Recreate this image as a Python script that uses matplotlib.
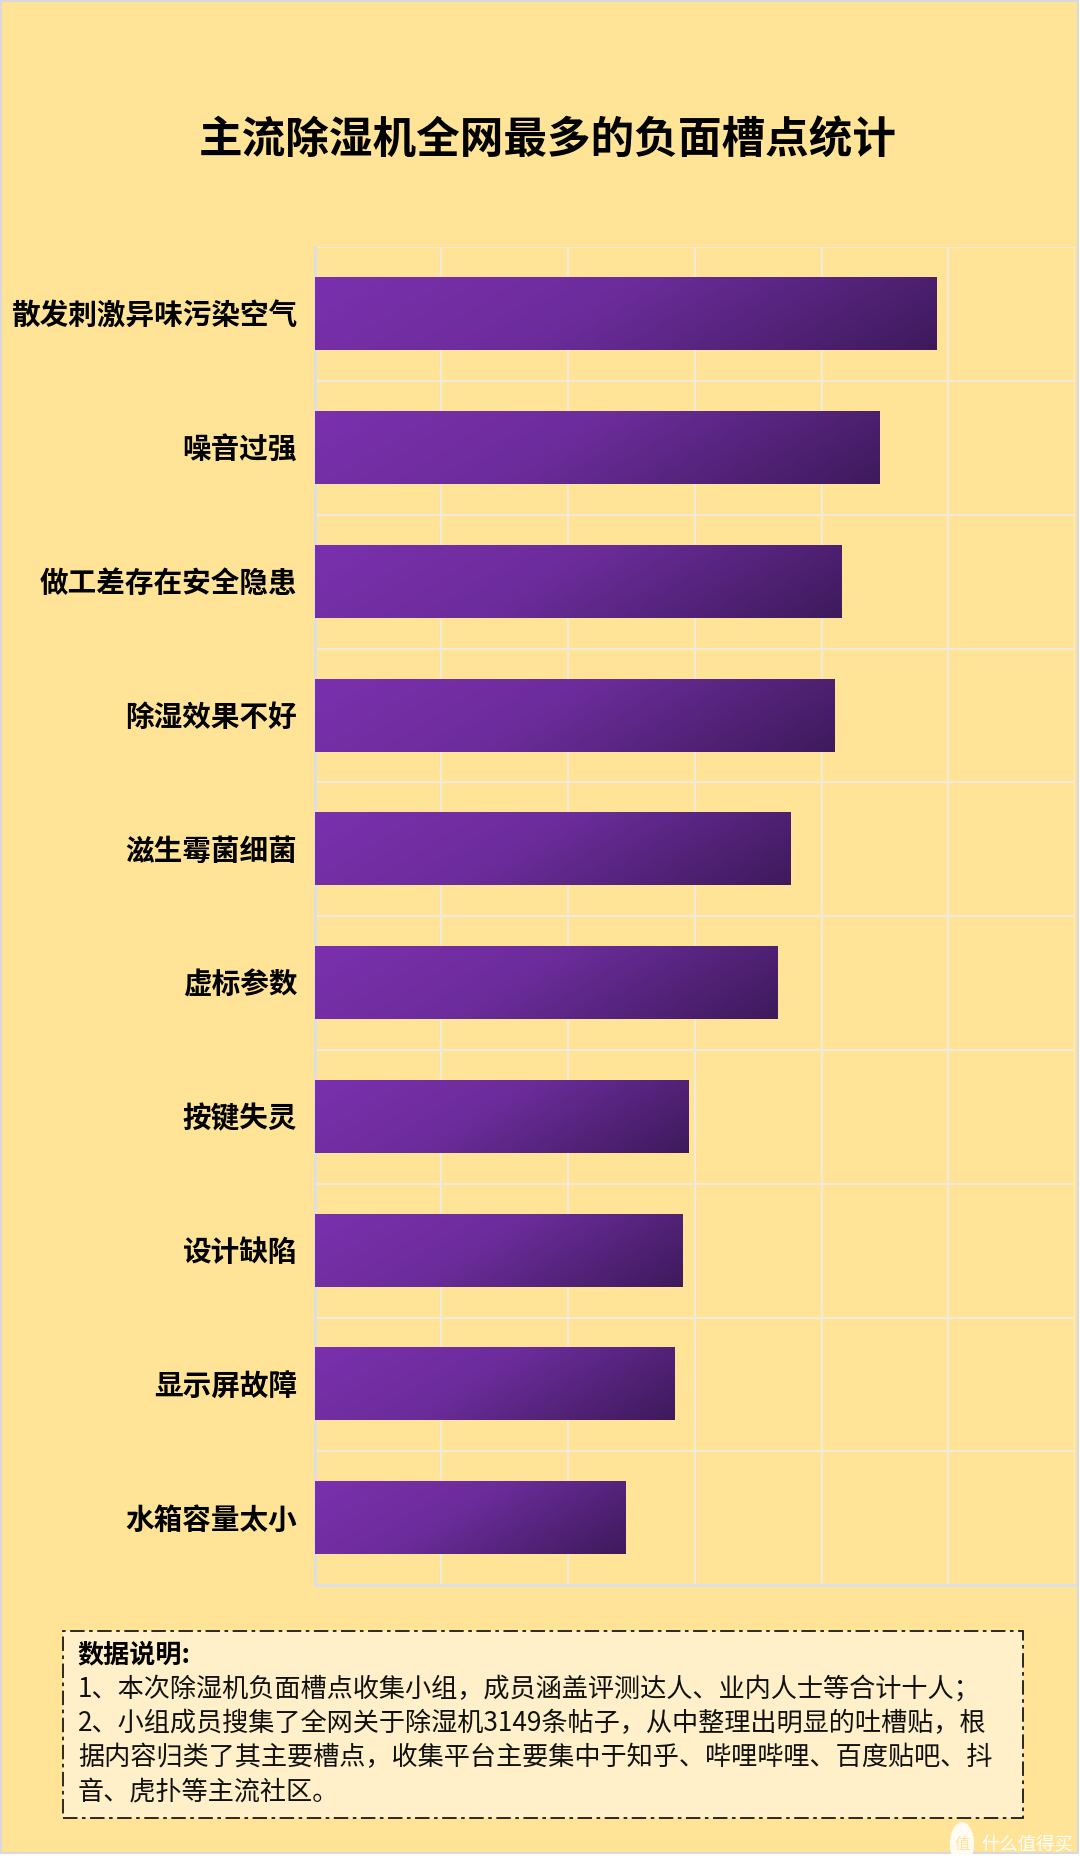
import numpy as np
import matplotlib
matplotlib.use("Agg")
import matplotlib.pyplot as plt
from matplotlib.colors import LinearSegmentedColormap
from matplotlib.patches import Rectangle, Ellipse
from matplotlib.transforms import ScaledTranslation

plt.rcParams['font.family'] = ['Noto Sans CJK SC', 'DejaVu Sans']

title = "主流除湿机全网最多的负面槽点统计"
categories = ["散发刺激异味污染空气", "噪音过强", "做工差存在安全隐患", "除湿效果不好", "滋生霉菌细菌",
              "虚标参数", "按键失灵", "设计缺陷", "显示屏故障", "水箱容量太小"]
values = [49.0, 44.5, 41.5, 41.0, 37.5, 36.5, 29.5, 29.0, 28.4, 24.5]
x_ticks = [0, 10, 20, 30, 40, 50, 60]
note_head = "数据说明:"
note_lines = ["1、本次除湿机负面槽点收集小组，成员涵盖评测达人、业内人士等合计十人；",
              "2、小组成员搜集了全网关于除湿机3149条帖子，从中整理出明显的吐槽贴，根",
              "据内容归类了其主要槽点，收集平台主要集中于知乎、哔哩哔哩、百度贴吧、抖",
              "音、虎扑等主流社区。"]

W, H = 1080, 1867
fig = plt.figure(figsize=(W / 100, H / 100), dpi=100, facecolor="white")
def fx(x): return x / W
def fy(y): return 1 - y / H

BG = "#FFE498"
fig.add_artist(Rectangle((fx(1), fy(1853)), fx(1077), 1852 / H, transform=fig.transFigure,
                         facecolor=BG, edgecolor="#D9D9D9", linewidth=1.5, zorder=-5))

ax = fig.add_axes([fx(314.5), fy(1585), fx(1075 - 314.5), (1585 - 247.5) / H])
ax.set_facecolor("none")
n = len(categories)
ax.set_xlim(x_ticks[0], x_ticks[-1])
ax.set_ylim(n - 0.5, -0.5)
ax.set_xticks(x_ticks)
ax.set_yticks(np.arange(n))
ax.set_yticklabels(categories, fontsize=20.6, fontweight="bold", color="black")
ax.set_yticks(np.arange(n + 1) - 0.5, minor=True)
ax.tick_params(axis="both", which="both", length=0)
ax.tick_params(axis="y", pad=12.5)
ax.tick_params(axis="x", labelbottom=False)
shift = ScaledTranslation(0, 1.5 / 100, fig.dpi_scale_trans)
for lab in ax.get_yticklabels():
    lab.set_transform(lab.get_transform() + shift)
ax.grid(True, axis="x", which="major", color="#F0EBDC", linewidth=1.4)
ax.grid(True, axis="y", which="minor", color="#F0EBDC", linewidth=1.4)
ax.set_axisbelow(True)
for s in ("top", "right"):
    ax.spines[s].set_visible(False)
for s in ("left", "bottom"):
    ax.spines[s].set_color("#DADFE8")
    ax.spines[s].set_linewidth(2)

cmap = LinearSegmentedColormap.from_list("bar", [(0, "#7B30AE"), (0.45, "#6B2C9A"), (1, "#3E1A5C")])
bar_h = 0.54
bars = ax.barh(np.arange(n), values, height=bar_h, color="none", edgecolor="none", zorder=3)
for i, (b, v) in enumerate(zip(bars, values)):
    u, t = np.meshgrid(np.linspace(0, 1, 300), np.linspace(0, 1, 40))
    px_w = v * 761 / 60
    g = (u * px_w + t * 73 * 1.6) / (px_w + 73 * 1.6)
    im = ax.imshow(g, cmap=cmap, vmin=0, vmax=1, extent=(0, v, i + bar_h / 2, i - bar_h / 2),
                   aspect="auto", zorder=3, interpolation="bilinear", origin="upper")
ax.set_xlim(x_ticks[0], x_ticks[-1])
ax.set_ylim(n - 0.5, -0.5)

fig.text(fx(548), fy(139.5), title, fontsize=31.4, fontweight="bold", color="black", ha="center", va="center")

fig.add_artist(Rectangle((fx(63), fy(1818)), fx(960), 187 / H, transform=fig.transFigure,
                         facecolor="#FFF0C9", edgecolor="#1A1A1A", linewidth=1.3,
                         linestyle=(0, (8, 2.5, 2, 2.5))))
fig.text(fx(77), fy(1655), note_head, fontsize=18.8, fontweight="bold", color="black", ha="left", va="center")
for k, line in enumerate(note_lines):
    fig.text(fx(78), fy(1689 + k * 34.3), line, fontsize=18.85, color="#111111", ha="left", va="center")

fig.add_artist(Ellipse((fx(962), fy(1844)), fx(24), 44 / H, transform=fig.transFigure,
                       facecolor="white", edgecolor="none", alpha=0.9))
fig.text(fx(962), fy(1844), "值", fontsize=11, color=BG, ha="center", va="center")
fig.text(fx(981), fy(1845), "什么值得买", fontsize=13.2, color="white", ha="left", va="center")

fig.savefig("out.png", dpi=100, facecolor="white")
